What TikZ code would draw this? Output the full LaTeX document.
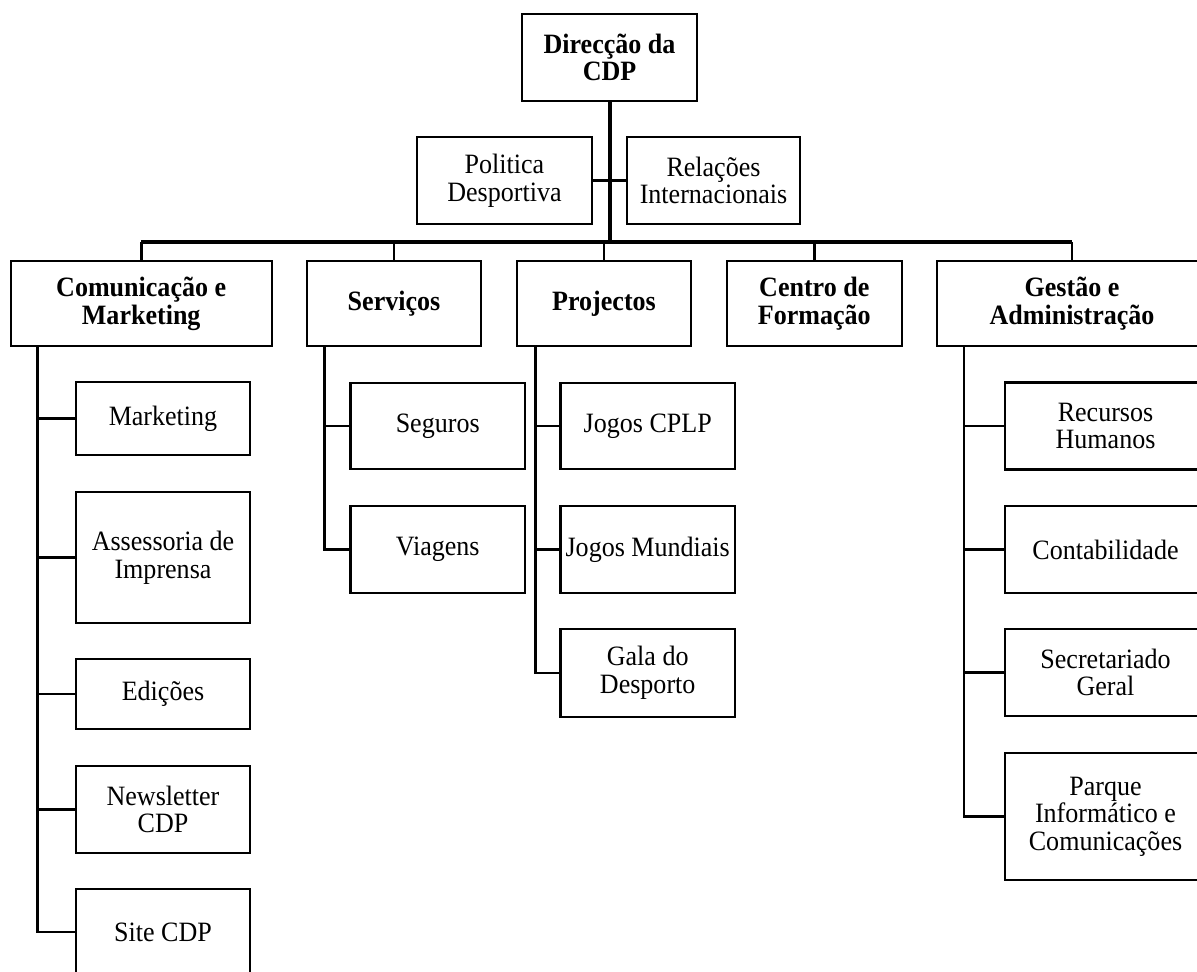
\documentclass[tikz,border=0pt]{standalone}
\usepackage{fontspec}
\setmainfont[FakeStretch=0.93]{Liberation Serif}

\begin{document}
\begin{tikzpicture}[x=0.5pt, y=-0.5pt,
    box/.style={draw, line width=1.2pt, align=center, inner sep=0pt,
        font=\fontsize{14}{13.85}\selectfont},
    head/.style={box, font=\fontsize{14}{13.85}\selectfont\bfseries},
    sub/.style={box, minimum width=87.25pt},
    link/.style={line width=1.3pt},
    bus/.style={line width=1.7pt}]
    \useasboundingbox (0,0) rectangle (1197,971);
    \clip (0,0) rectangle (1197,971);
    % top
    \node[head, minimum width=87.5pt, minimum height=43.5pt] (dir) at (609.5,57.5) {Direcção da\\CDP};
    \node[box, minimum width=87.5pt, minimum height=43.5pt] (pol) at (504.5,180.5) {Politica\\Desportiva};
    \node[box, minimum width=86.5pt, minimum height=43.5pt] (rel) at (713.5,180.5) {Relações\\Internacionais};
    % departments
    \node[head, minimum width=130.5pt, minimum height=42.5pt] (com) at (141.2,303.5) {Comunicação e\\Marketing};
    \node[head, minimum width=87pt, minimum height=42.5pt] (ser) at (394,303.5) {Serviços};
    \node[head, minimum width=87pt, minimum height=42.5pt] (pro) at (604,303.5) {Projectos};
    \node[head, minimum width=87.5pt, minimum height=42.5pt] (cen) at (814.3,303.5) {Centro de\\Formação};
    \node[head, minimum width=135pt, minimum height=42.5pt] (ges) at (1072,303.5) {Gestão e\\Administração};
    % sections
    \node[sub, minimum height=36.5pt] (mkt) at (163,418.5) {Marketing};
    \node[sub, minimum height=65.5pt] (ass) at (163,557.5) {Assessoria de\\Imprensa};
    \node[sub, minimum height=35pt] (edi) at (163,694) {Edições};
    \node[sub, minimum height=43.5pt] (nws) at (163,809.5) {Newsletter\\CDP};
    \node[sub, minimum height=43pt] (sit) at (163,932) {Site CDP};
    \node[sub, minimum height=43pt] (seg) at (437.7,426) {Seguros};
    \node[sub, minimum height=43.5pt] (via) at (437.7,549.5) {Viagens};
    \node[sub, minimum height=43pt] (jcp) at (647.7,426) {Jogos CPLP};
    \node[sub, minimum height=43.5pt] (jmu) at (647.7,549.5) {Jogos Mundiais};
    \node[sub, minimum height=44pt] (gal) at (647.7,673) {Gala do\\Desporto};
    \node[box, minimum width=100.5pt, minimum height=43.5pt] (rec) at (1105.5,426) {Recursos\\Humanos};
    \node[box, minimum width=100.5pt, minimum height=43.5pt] (con) at (1105.5,549.5) {Contabilidade};
    \node[box, minimum width=100.5pt, minimum height=43.5pt] (sec) at (1105.5,672.5) {Secretariado\\Geral};
    \node[box, minimum width=100.5pt, minimum height=63.5pt] (par) at (1105.5,816.5) {Parque\\Informático e\\Comunicações};
    % connectors
    \coordinate (busy) at (0,242);
    \draw[line width=2pt] (dir.south) -- (dir.south |- busy);
    \draw[link] (pol.east) -- (rel.west);
    \draw[bus] (com.north |- busy) -- (ges.north |- busy);
    \foreach \n in {com,ser,pro,cen,ges}
        \draw[link] (\n.north) -- (\n.north |- busy);
    \coordinate (comx) at (37.7,0);
    \coordinate (serx) at (324.5,0);
    \coordinate (prox) at (535.5,0);
    \coordinate (gesx) at (964,0);
    \draw[link] (com.south -| comx) |- (sit.west);
    \foreach \n in {mkt,ass,edi,nws}
        \draw[link] (\n.west) -- (\n.west -| comx);
    \draw[link] (ser.south -| serx) |- (via.west);
    \draw[link] (seg.west) -- (seg.west -| serx);
    \draw[link] (pro.south -| prox) |- (gal.west);
    \foreach \n in {jcp,jmu}
        \draw[link] (\n.west) -- (\n.west -| prox);
    \draw[link] (ges.south -| gesx) |- (par.west);
    \foreach \n in {rec,con,sec}
        \draw[link] (\n.west) -- (\n.west -| gesx);
\end{tikzpicture}
\end{document}
